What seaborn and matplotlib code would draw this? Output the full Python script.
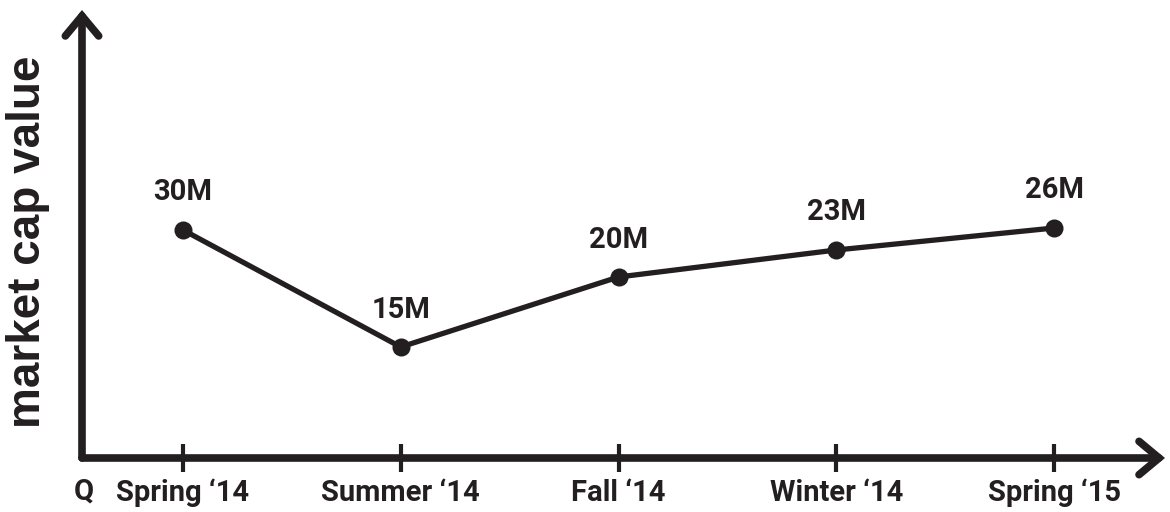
import matplotlib
matplotlib.use("Agg")
import matplotlib.pyplot as plt
import seaborn as sns
import numpy as np
import pandas as pd

# Data (heights are in arbitrary units, no y ticks shown)
quarters = ["Spring \u201814", "Summer \u201814", "Fall \u201814", "Winter \u201814", "Spring \u201815"]
heights = [22.8, 11.1, 18.1, 20.8, 23.0]
value_labels = ["30M", "15M", "20M", "23M", "26M"]
ylabel = "market cap value"
origin_label = "Q"

INK = "#231f20"
NARROW = ["Roboto", "DejaVu Sans"]
WIDE = ["Liberation Sans", "DejaVu Sans"]

sns.set_style("white")
plt.rcParams["font.family"] = NARROW

df = pd.DataFrame({"pos": np.arange(len(quarters)), "height": heights})

fig = plt.figure(figsize=(11.7, 5.12), dpi=100)
ax = fig.add_axes([82 / 1170, 54 / 512, (1165 - 82) / 1170, 448 / 512])

sns.lineplot(data=df, x="pos", y="height", ax=ax, sort=False, color=INK,
             linewidth=3.8, marker="o", markersize=13, markeredgewidth=0,
             markerfacecolor=INK, zorder=3)

for x, y, lab in zip(df["pos"], df["height"], value_labels):
    ax.annotate(lab, (x, y), xytext=(0, 27), textcoords="offset points",
                ha="center", va="center", fontsize=21, fontweight="bold",
                color=INK, family=NARROW)

ax.set_xlim((82 - 183) / 217.75, (1165 - 183) / 217.75)
ax.set_ylim(0, 44.8)
for s in ax.spines.values():
    s.set_visible(False)

ax.set_xticks(df["pos"])
ax.set_xticklabels(quarters, fontsize=21, fontweight="bold", color=INK, family=NARROW)
ax.set_yticks([])
ax.tick_params(axis="x", direction="inout", length=20, width=3, color=INK, pad=5,
               bottom=True)
ax.set_xlabel("")
ax.set_ylabel("")

# axis arrows
arrow = dict(arrowstyle="->,head_length=0.6,head_width=0.5", lw=5.5, color=INK,
             shrinkA=0, shrinkB=0, mutation_scale=24, capstyle="round", joinstyle="miter")
ax.annotate("", xy=(1, 0), xytext=(0, 0), xycoords="axes fraction",
            textcoords="axes fraction", arrowprops=arrow, annotation_clip=False)
ax.annotate("", xy=(0, 1), xytext=(0, 0), xycoords="axes fraction",
            textcoords="axes fraction", arrowprops=arrow, annotation_clip=False)

ax.text(0.002, -34 / 448, origin_label, transform=ax.transAxes, ha="center", va="center",
        fontsize=21, fontweight="bold", color=INK, family=NARROW)

fig.text(28 / 1170, 1 - 242 / 512, ylabel, rotation=90, ha="center", va="center",
         fontsize=33, fontweight="bold", color=INK, family=WIDE)

fig.savefig("out.png", dpi=100)
